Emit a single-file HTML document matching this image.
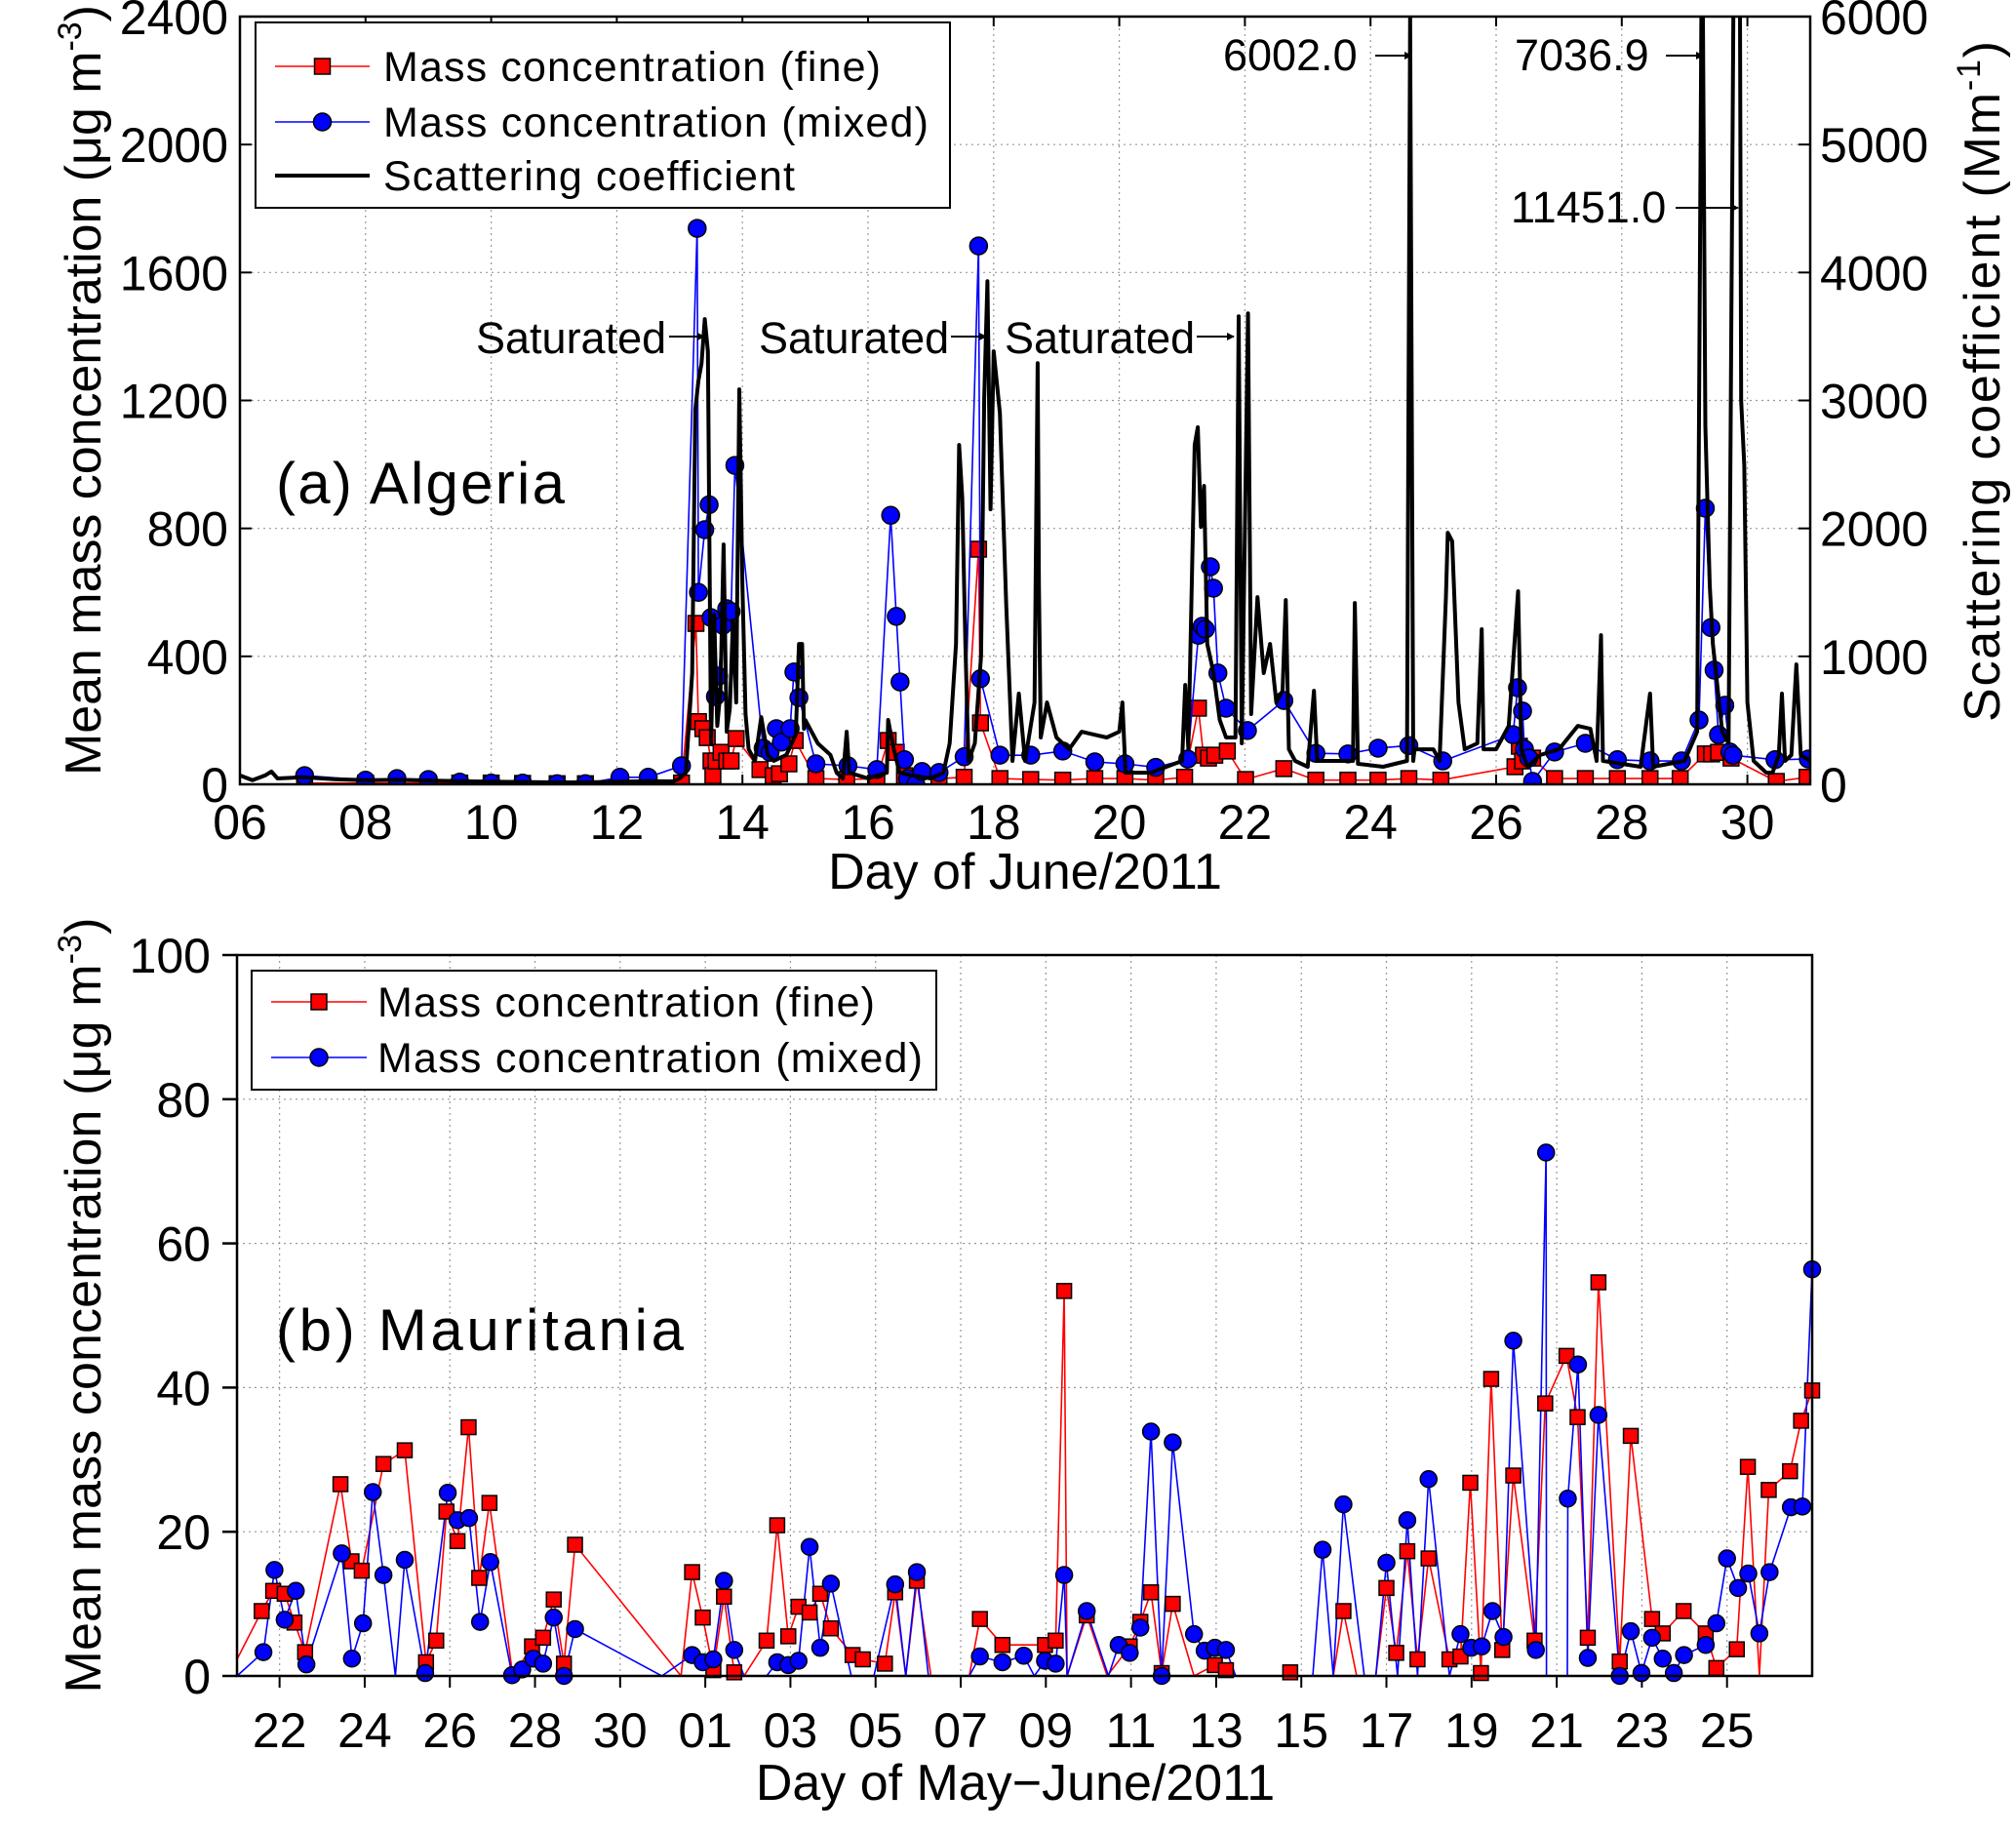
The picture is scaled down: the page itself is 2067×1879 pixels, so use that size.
<!DOCTYPE html>
<html><head><meta charset="utf-8"><style>
html,body{margin:0;padding:0;background:#fff}
svg{display:block}
text{font-family:"Liberation Sans",sans-serif;fill:#000}
</style></head><body>
<svg id="fig" width="2067" height="1879" viewBox="0 0 2067 1879" xmlns="http://www.w3.org/2000/svg">
<defs>
<clipPath id="clipA"><rect x="246" y="17" width="1610" height="787"/></clipPath>
<clipPath id="clipB"><rect x="243" y="979" width="1615" height="739"/></clipPath>
<marker id="arr" markerWidth="8" markerHeight="8" refX="7" refY="4" orient="auto" markerUnits="userSpaceOnUse"><path d="M0,0 L8,4 L0,8 z" fill="#000"/></marker>
</defs>
<g id="panelA"></g>
<g id="panelB"></g>
</svg>
<script>
// ---------- Panel A data (day of June 2011) ----------
const aFineDays=[7.03,8,8.5,9,9.5,10,10.5,11.05,11.5,12.05,12.5,13.03,13.26,13.3,13.37,13.44,13.5,13.53,13.58,13.66,13.75,13.82,13.9,14.28,14.49,14.59,14.74,14.84,15.17,15.66,16.14,16.32,16.45,16.58,17.13,17.53,17.76,17.79,18.1,18.59,19.1,19.61,20.09,20.58,21.04,21.26,21.34,21.42,21.52,21.72,22.01,22.62,23.13,23.64,24.12,24.61,25.12,26.3,26.37,26.42,26.58,26.93,27.42,27.93,28.45,28.93,29.33,29.43,29.54,29.74,30.46,30.95];
const aFineVals=[4,4,4,4,4,4,3,2,2,4,4,4,503,196,174,146,73,27,73,100,73,73,143,46,27,33,64,137,18,15,18,137,100,27,18,22,735,192,18,15,13,18,18,13,22,238,91,82,91,104,15,49,13,13,13,18,13,55,119,73,82,18,18,18,18,18,95,95,100,82,9,22];
const aMixDays=[7.03,8,8.5,9,9.5,10,10.5,11.05,11.5,12.05,12.5,13.03,13.28,13.3,13.4,13.47,13.5,13.57,13.62,13.69,13.75,13.82,13.88,14.33,14.44,14.54,14.62,14.76,14.82,14.9,15.17,15.68,16.14,16.36,16.45,16.51,16.58,16.63,16.76,16.86,17.13,17.53,17.76,17.79,18.1,18.59,19.1,19.61,20.09,20.58,21.09,21.26,21.32,21.37,21.45,21.5,21.57,21.7,22.04,22.62,23.13,23.64,24.12,24.61,25.15,26.27,26.34,26.42,26.45,26.52,26.58,26.93,27.42,27.93,28.45,28.95,29.23,29.33,29.42,29.47,29.54,29.64,29.72,29.77,30.44,30.97];
const aMixVals=[27,13,18,15,7,4,4,2,2,22,22,58,1738,600,796,874,521,274,338,497,549,540,997,113,100,174,132,174,351,271,64,58,46,841,525,320,77,18,0,40,37,86,1683,330,91,91,104,70,64,53,79,466,494,485,680,613,348,238,168,262,97,95,113,121,73,155,302,229,110,82,9,101,128,77,73,73,201,863,490,357,155,247,101,91,77,79];
const scatDays=[6.0,6.2,6.4,6.5,6.6,7,7.5,8,8.5,9,9.5,10,10.5,11,11.5,12,12.5,12.9,13.0,13.1,13.2,13.25,13.3,13.35,13.4,13.45,13.5,13.55,13.6,13.65,13.7,13.75,13.8,13.85,13.9,13.95,14.0,14.05,14.1,14.2,14.3,14.4,14.5,14.7,14.85,14.9,14.95,14.98,15.0,15.2,15.4,15.5,15.6,15.66,15.7,16.0,16.3,16.32,16.4,16.5,16.7,17.0,17.2,17.3,17.4,17.45,17.5,17.55,17.6,17.7,17.8,17.85,17.9,17.95,18.0,18.1,18.2,18.3,18.4,18.5,18.65,18.7,18.72,18.75,18.85,19.0,19.2,19.4,19.6,19.8,20.0,20.05,20.1,20.5,21.0,21.05,21.1,21.2,21.25,21.3,21.35,21.4,21.5,21.6,21.7,21.85,21.9,21.95,22.05,22.1,22.2,22.3,22.4,22.5,22.6,22.65,22.7,22.8,23.0,23.1,23.15,23.5,23.72,23.75,23.8,24.2,24.58,24.63,24.68,24.7,25.0,25.1,25.2,25.23,25.3,25.4,25.5,25.7,25.77,25.8,26.0,26.2,26.35,26.4,26.5,26.7,27.0,27.3,27.5,27.6,27.67,27.7,28.0,28.3,28.45,28.5,29.0,29.2,29.28,29.33,29.4,29.45,29.5,29.6,29.7,29.85,29.9,29.95,30.0,30.1,30.3,30.4,30.5,30.55,30.6,30.7,30.78,30.85,31.0];
const scatVals=[69,32,69,100,46,55,40,32,35,30,25,20,18,15,15,20,25,23,46,91,870,2927,3155,3290,3636,3384,320,1326,457,731,1875,411,594,1280,640,3087,1555,549,274,183,525,230,183,230,388,1097,1097,434,503,320,230,91,46,411,91,46,91,503,297,91,69,46,91,320,1097,2652,2240,1097,183,320,1006,3018,3932,2149,3384,2900,1400,183,709,183,640,3292,1555,366,640,366,274,411,388,366,411,640,91,91,183,777,274,2652,2790,2012,2332,1097,869,503,366,366,3658,320,3681,549,1463,869,1097,640,731,1440,274,183,137,731,183,183,183,1417,160,137,183,6002,183,274,274,183,1463,1966,1900,640,274,320,1212,274,274,457,1509,274,137,229,274,457,434,183,1166,183,160,137,709,137,183,411,7037,2800,1555,1097,869,411,320,11451,3000,2492,640,183,91,91,229,709,183,229,937,229,183];
const aTicksX=["06","08","10","12","14","16","18","20","22","24","26","28","30"];
const aTicksY=[0,400,800,1200,1600,2000,2400];
const aTicksR=[0,1000,2000,3000,4000,5000,6000];

// ---------- Panel B data (days since 21 May 2011; null = gap) ----------
const bFineT=[0,0.58,0.85,1.12,1.35,1.6,2.43,2.69,2.93,3.44,3.94,4.44,4.68,4.92,5.18,5.44,5.69,5.93,6.48,6.93,7.19,7.44,7.68,7.94,10.43,10.69,10.94,11.19,11.44,11.68,11.91,12.44,12.69,12.95,13.19,13.45,13.7,13.95,14.46,14.7,15.22,15.46,15.71,15.97,16.3,null,17.2,17.45,17.98,18.98,19.23,19.43,19.5,19.96,20.44,20.97,21.22,21.47,21.72,21.98,22.48,22.97,23.23,23.46,null,24.74,null,25.75,25.99,26.3,null,26.75,27.0,27.23,27.49,27.73,27.99,28.48,28.74,28.97,29.22,29.46,29.72,29.98,30.48,30.73,31.23,31.49,31.73,31.98,32.48,32.74,33.24,33.49,33.98,34.5,34.75,35.23,35.49,35.76,35.98,36.48,36.74,37.0];
const bFineV=[2.3,9.0,11.8,11.4,7.4,3.3,26.6,15.9,14.6,29.4,31.3,1.9,4.9,22.8,18.7,34.5,13.6,24.0,0,4.1,5.3,10.6,1.7,18.2,0,14.4,8.1,0.8,11.0,0.5,0,4.9,20.9,5.5,9.6,8.8,11.4,6.6,2.9,2.3,1.7,11.6,0,13.2,0,null,0,7.9,4.3,4.3,4.9,53.4,0,8.4,0,4.1,7.5,11.6,0.4,10.0,0,1.5,0.8,0,null,0.5,null,0,9.0,0,null,0,12.2,3.2,17.3,2.3,16.3,2.3,2.7,26.8,0.4,41.2,3.6,27.8,4.9,37.8,44.4,35.9,5.3,54.6,2.0,33.3,7.9,5.9,9.0,5.9,1.1,3.7,29.0,0,25.8,28.4,35.4,39.6];
const bMixT=[0,0.62,0.88,1.12,1.38,1.63,2.46,2.7,2.96,3.19,3.44,3.72,3.94,4.42,4.95,5.18,5.45,5.71,5.95,6.46,6.7,6.96,7.19,7.44,7.68,7.94,9.98,10.69,10.94,11.19,11.44,11.68,11.91,12.44,12.69,12.95,13.19,13.45,13.7,13.95,14.43,14.96,15.46,15.71,15.97,16.24,null,17.2,17.45,17.98,18.48,18.73,18.98,19.23,19.43,19.5,19.96,20.47,20.71,20.97,21.22,21.47,21.72,21.98,22.48,22.73,22.97,23.23,23.46,null,25.27,25.5,25.75,25.99,26.48,null,26.75,27.0,27.26,27.49,27.73,27.99,28.48,28.74,28.99,29.24,29.49,29.75,29.98,30.51,30.75,30.76,31.25,31.26,31.5,31.73,31.98,32.48,32.74,32.99,33.24,33.49,33.75,33.99,34.5,34.75,35.0,35.26,35.5,35.76,36.0,36.5,36.77,37.0];
const bMixV=[0,3.3,14.7,7.8,11.8,1.6,17.0,2.4,7.3,25.5,14.0,0,16.1,0.4,25.4,21.6,21.9,7.5,15.8,0.1,0.9,2.4,1.7,8.1,0,6.5,0,2.9,1.9,2.3,13.2,3.6,0,0,1.9,1.5,2.1,17.9,3.9,12.8,0,0,12.7,0,14.4,0,null,0,2.7,1.9,2.8,0,2.1,1.7,14.0,0,9.0,0,4.3,3.2,6.7,33.9,0,32.4,5.8,3.5,3.9,3.6,0,null,0,17.5,0,23.8,0,null,0,15.7,0,21.6,0,27.3,0,5.8,3.9,4.1,9.0,5.4,46.5,3.6,72.6,0,0,24.6,43.2,2.5,36.2,0,6.2,0.4,5.3,2.4,0.4,2.9,4.3,7.3,16.3,12.2,14.2,5.9,14.4,23.4,23.5,56.4];
const bTickT=[1,3,5,7,9,11,13,15,17,19,21,23,25,27,29,31,33,35];
const bTickLabels=["22","24","26","28","30","01","03","05","07","09","11","13","15","17","19","21","23","25"];
const bTicksY=[0,20,40,60,80,100];

// ---------- scales ----------
const xa=d=>246+(d-6)*(1610/25);
const ya=v=>804-v*(787/2400);
const ys=s=>804-s*(787/6000);
const xb=t=>243+t*(1615/37);
const yb=v=>1718-v*(739/100);
const NS="http://www.w3.org/2000/svg";
function mk(parent,tag,attrs){const e=document.createElementNS(NS,tag);for(const k in attrs)e.setAttribute(k,attrs[k]);parent.appendChild(e);return e;}
function txt(parent,x,y,s,size,anchor){const t=mk(parent,'text',{x:x,y:y,'font-size':size,'text-anchor':anchor||'start'});t.textContent=s;return t;}
function pathFrom(xs,vs,fx,fy){let d='',pen=false;for(let i=0;i<xs.length;i++){if(xs[i]===null||vs[i]===null){pen=false;continue;}d+=(pen?'L':'M')+fx(xs[i]).toFixed(1)+','+fy(vs[i]).toFixed(1);pen=true;}return d;}

// ================= PANEL A =================
const A=document.getElementById('panelA');
aTicksX.forEach((lab,i)=>{const x=xa(6+2*i);
 const g=mk(A,'line',{x1:x,x2:x,y1:17,y2:804,stroke:'#999','stroke-width':1.2,'stroke-dasharray':'2,4'});
 
 
 mk(A,'line',{x1:x,x2:x,y1:804,y2:794,stroke:'#000','stroke-width':2});
 mk(A,'line',{x1:x,x2:x,y1:17,y2:27,stroke:'#000','stroke-width':2});
 const t=txt(A,x,860,lab,50,'middle');
 
 
});
aTicksY.forEach(v=>{const y=ya(v);
 const g=mk(A,'line',{x1:246,x2:1856,y1:y,y2:y,stroke:'#999','stroke-width':1.2,'stroke-dasharray':'2,4'});
 
 
 mk(A,'line',{x1:246,x2:258,y1:y,y2:y,stroke:'#000','stroke-width':2});
 const t=txt(A,234,y+18,String(v),50,'end');
 
 
});
aTicksR.forEach(v=>{const y=ys(v);
 mk(A,'line',{x1:1844,x2:1856,y1:y,y2:y,stroke:'#000','stroke-width':2});
 const t=txt(A,1866,y+18,String(v),50,'start');
 
 
});
const clipA=mk(A,'g',{'clip-path':'url(#clipA)'});
const fa=mk(clipA,'path',{d:pathFrom(aFineDays,aFineVals,xa,ya),fill:'none',stroke:'#ff0000','stroke-width':1.6});


aFineDays.forEach((d,i)=>{const r=mk(clipA,'rect',{x:xa(d)-8,y:ya(aFineVals[i])-8,width:16,height:16,fill:'#ff0000',stroke:'#000','stroke-width':1.5});
 
 });
const ma=mk(clipA,'path',{d:pathFrom(aMixDays,aMixVals,xa,ya),fill:'none',stroke:'#0000ff','stroke-width':1.6});


aMixDays.forEach((d,i)=>{const c=mk(clipA,'circle',{cx:xa(d),cy:ya(aMixVals[i]),r:9,fill:'#0000ff',stroke:'#000','stroke-width':1.5});
 
 });
const sa=mk(clipA,'path',{d:pathFrom(scatDays,scatVals,xa,ys),fill:'none',stroke:'#000','stroke-width':4,'stroke-linejoin':'round'});


const fA=mk(A,'rect',{x:246,y:17,width:1610,height:787,fill:'none',stroke:'#000','stroke-width':2.5});


function annot(label,tx,ty,ax1,ax2,ay,name){
 const t=txt(A,tx,ty,label,45,'start');
 
 
 const l=mk(A,'line',{x1:ax1,x2:ax2,y1:ay,y2:ay,stroke:'#000','stroke-width':2,'marker-end':'url(#arr)'});
 
 
}
annot('Saturated',488,362,686,722,345,'saturated-label-1');
annot('Saturated',778,362,975,1011,345,'saturated-label-2');
annot('Saturated',1030,362,1227,1265,345,'saturated-label-3');
annot('6002.0',1254,72,1410,1447,57,'peak-label-6002');
annot('7036.9',1553,72,1708,1746,57,'peak-label-7036');
annot('11451.0',1549,228,1718,1782,213,'peak-label-11451');
const ta=txt(A,283,516,'(a) Algeria',60,'start');
ta.setAttribute('textLength','296');


const lgA=mk(A,'g',{});


mk(lgA,'rect',{x:262,y:23,width:712,height:190,fill:'#fff',stroke:'#000','stroke-width':2});
function legEntry(g,y,kind,label,len,x0,x1,tx,name){
 const e=mk(g,'g',{});
 
 
 const col=kind==='fine'?'#ff0000':kind==='mixed'?'#0000ff':'#000';
 mk(e,'line',{x1:x0,x2:x1,y1:y,y2:y,stroke:col,'stroke-width':kind==='scat'?4:1.6});
 const cx=(x0+x1)/2;
 if(kind==='fine')mk(e,'rect',{x:cx-8,y:y-8,width:16,height:16,fill:'#ff0000',stroke:'#000','stroke-width':1.5});
 if(kind==='mixed')mk(e,'circle',{cx:cx,cy:y,r:9,fill:'#0000ff',stroke:'#000','stroke-width':1.5});
 const t=txt(e,tx,y+15,label,43,'start');
 t.setAttribute('textLength',len);
}
legEntry(lgA,68,'fine','Mass concentration (fine)',510,282,379,393,'legend-entry-fine-a');
legEntry(lgA,125,'mixed','Mass concentration (mixed)',559,282,379,393,'legend-entry-mixed-a');
legEntry(lgA,180,'scat','Scattering coefficient',422,282,379,393,'legend-entry-scattering-a');
const ylA=mk(A,'text',{x:0,y:0,'font-size':52,'text-anchor':'middle',transform:'translate(103,400) rotate(-90)',textLength:790});
ylA.innerHTML='Mean mass concentration (μg m<tspan dy="-20" font-size="34">-3</tspan><tspan dy="20">)</tspan>';


const yrA=mk(A,'text',{x:0,y:0,'font-size':52,'text-anchor':'middle',transform:'translate(2050,391) rotate(-90)',textLength:698});
yrA.innerHTML='Scattering coefficient (Mm<tspan dy="-20" font-size="34">-1</tspan><tspan dy="20">)</tspan>';


const xlA=txt(A,1051,911,'Day of June/2011',52,'middle');



// ================= PANEL B =================
const B=document.getElementById('panelB');
bTickT.forEach((t,i)=>{const x=xb(t);
 const g=mk(B,'line',{x1:x,x2:x,y1:979,y2:1718,stroke:'#999','stroke-width':1.2,'stroke-dasharray':'2,4'});
 
 
 mk(B,'line',{x1:x,x2:x,y1:1718,y2:1730,stroke:'#000','stroke-width':2});
 const l=txt(B,x,1791,bTickLabels[i],50,'middle');
 
 
});
bTicksY.forEach(v=>{const y=yb(v);
 const g=mk(B,'line',{x1:243,x2:1858,y1:y,y2:y,stroke:'#999','stroke-width':1.2,'stroke-dasharray':'2,4'});
 
 
 mk(B,'line',{x1:228,x2:243,y1:y,y2:y,stroke:'#000','stroke-width':2.5});
 const l=txt(B,216,y+18,String(v),50,'end');
 
 
});
const clipB=mk(B,'g',{'clip-path':'url(#clipB)'});
const fb=mk(clipB,'path',{d:pathFrom(bFineT,bFineV,xb,yb),fill:'none',stroke:'#ff0000','stroke-width':1.6});


const mb=mk(clipB,'path',{d:pathFrom(bMixT,bMixV,xb,yb),fill:'none',stroke:'#0000ff','stroke-width':1.6});


bFineT.forEach((t,i)=>{if(t===null||i===0||bFineV[i]===0)return;
 const r=mk(B,'rect',{x:xb(t)-7.5,y:yb(bFineV[i])-7.5,width:15,height:15,fill:'#ff0000',stroke:'#000','stroke-width':1.5});
 
 });
bMixT.forEach((t,i)=>{if(t===null||i===0)return;
 if(bMixV[i]===0&&[11,26,32,33,40,41,43,45,47,51,55,57,63,68,70,72,74,76,78,80,82,91,92,93,98].indexOf(i)>=0)return;
 const c=mk(B,'circle',{cx:xb(t),cy:yb(bMixV[i]),r:8.5,fill:'#0000ff',stroke:'#000','stroke-width':1.5});
 
 });
const fB=mk(B,'path',{d:'M243,979 H1858 V1718 H243 Z',fill:'none',stroke:'#000','stroke-width':2.5});


const tb=txt(B,283,1384,'(b) Mauritania',60,'start');
tb.setAttribute('textLength','418');


const lgB=mk(B,'g',{});


mk(lgB,'rect',{x:258,y:995,width:702,height:122,fill:'#fff',stroke:'#000','stroke-width':2});
legEntry(lgB,1027,'fine','Mass concentration (fine)',510,278,376,387,'legend-entry-fine-b');
legEntry(lgB,1084,'mixed','Mass concentration (mixed)',559,278,376,387,'legend-entry-mixed-b');
const ylB=mk(B,'text',{x:0,y:0,'font-size':52,'text-anchor':'middle',transform:'translate(103,1338) rotate(-90)',textLength:795});
ylB.innerHTML='Mean mass concentration (μg m<tspan dy="-20" font-size="34">-3</tspan><tspan dy="20">)</tspan>';


const xlB=txt(B,1041,1845,'Day of May\u2212June/2011',52,'middle');


</script>
</body></html>
